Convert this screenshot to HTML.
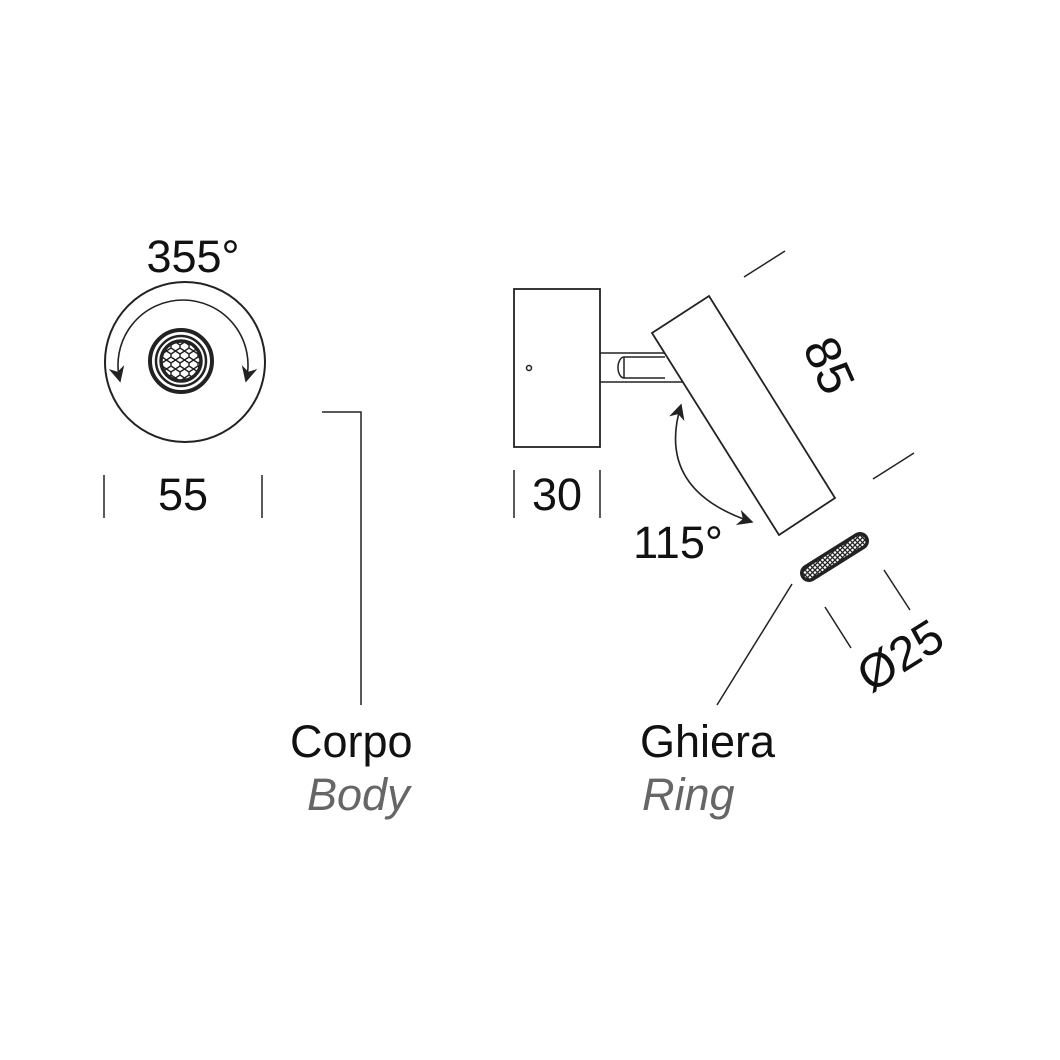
<!DOCTYPE html>
<html><head><meta charset="utf-8"><style>
html,body{margin:0;padding:0;background:#fff}
svg{display:block}
text{font-family:"Liberation Sans",sans-serif}
</style></head><body>
<svg width="1060" height="1060" viewBox="0 0 1060 1060" xmlns="http://www.w3.org/2000/svg">
<defs>
<pattern id="hx" width="9" height="9" patternUnits="userSpaceOnUse">
<rect width="9" height="9" fill="#fff"/>
<path d="M4.5 0 L9 3 L9 6 L4.5 9 L0 6 L0 3 Z" fill="none" stroke="#222" stroke-width="1.4"/>
</pattern>
<pattern id="xh" width="5" height="5" patternUnits="userSpaceOnUse">
<rect width="5" height="5" fill="#fff"/>
<path d="M0 0 L5 5 M5 0 L0 5" stroke="#222" stroke-width="1.3"/>
</pattern>
<marker id="ah" viewBox="0 0 10 10" refX="9" refY="5" markerWidth="16" markerHeight="16" orient="auto-start-reverse" markerUnits="userSpaceOnUse">
<path d="M0 0 L10 5 L0 10 L3 5 Z" fill="#222"/>
</marker>
</defs>
<g fill="none" stroke="#222" stroke-width="2">
<!-- left view -->
<circle cx="185" cy="362" r="80"/>
<path d="M120 381 A65 65 0 1 1 246 381" stroke-width="1.6" marker-start="url(#ah)" marker-end="url(#ah)"/>
<circle cx="181" cy="361" r="31" stroke-width="4"/>
<circle cx="181" cy="361" r="25" stroke-width="2.5"/>
<circle cx="181" cy="361" r="20" fill="url(#hx)" stroke-width="3.5"/>
<line x1="104" y1="475" x2="104" y2="518" stroke-width="1.5"/>
<line x1="262" y1="475" x2="262" y2="518" stroke-width="1.5"/>
<!-- corpo leader -->
<polyline points="322,412 361,412 361,705" stroke-width="1.5"/>
<!-- side view -->
<rect x="514" y="289" width="86" height="158" stroke-width="1.8"/>
<circle cx="529" cy="368" r="2.5" stroke-width="1.5"/>
<line x1="600" y1="353" x2="670" y2="353" stroke-width="1.5"/>
<line x1="600" y1="382" x2="683" y2="382" stroke-width="1.5"/>
<path d="M624 357 L665 357 M624 378 L665 378 M624 357 A6 10.5 0 0 0 624 378 M624 357 L624 378" stroke-width="1.5"/>
<polygon points="652,333 709,296 835,498 779,535" fill="#fff" stroke-width="1.8"/>
<line x1="744" y1="277" x2="785" y2="251" stroke-width="1.5"/>
<line x1="873" y1="479" x2="914" y2="453" stroke-width="1.5"/>
<path d="M681 405 Q655 490 752 522" stroke-width="1.6" marker-start="url(#ah)" marker-end="url(#ah)"/>
<line x1="514" y1="470" x2="514" y2="518" stroke-width="1.5"/>
<line x1="600" y1="470" x2="600" y2="518" stroke-width="1.5"/>
<!-- ring -->
<line x1="809" y1="573" x2="860" y2="541" stroke="#222" stroke-width="18" stroke-linecap="round"/>
<line x1="809" y1="573" x2="860" y2="541" stroke="url(#xh)" stroke-width="11" stroke-linecap="round"/>
<line x1="792" y1="584" x2="717" y2="705" stroke-width="1.5"/>
<line x1="825" y1="607" x2="851" y2="648" stroke-width="1.5"/>
<line x1="884" y1="570" x2="910" y2="610" stroke-width="1.5"/>
</g>
<g fill="#111" font-size="45">
<text x="193" y="272" text-anchor="middle">355°</text>
<text x="183" y="510" text-anchor="middle">55</text>
<text x="557" y="510" text-anchor="middle">30</text>
<text x="678" y="558" text-anchor="middle">115°</text>
<text x="0" y="0" text-anchor="middle" font-size="50" transform="translate(830,365) rotate(66) translate(0,18)">85</text>
<text x="0" y="0" text-anchor="middle" font-size="48" transform="translate(900,655) rotate(-32) translate(0,17)">Ø25</text>
<text x="290" y="757">Corpo</text>
<text x="640" y="757">Ghiera</text>
<text x="307" y="810" font-style="italic" fill="#666">Body</text>
<text x="642" y="810" font-style="italic" fill="#666">Ring</text>
</g>
</svg>
</body></html>
